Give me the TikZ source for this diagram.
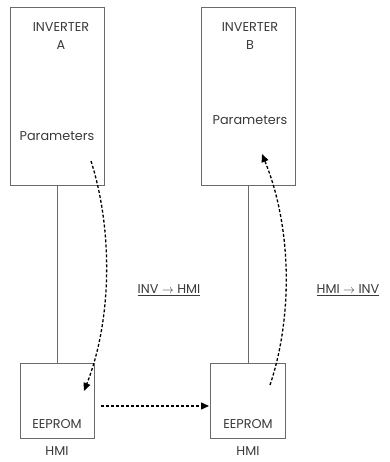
\documentclass[tikz,border=0pt]{standalone}
\usepackage{fontspec}
\setmainfont{Poppins}
\usetikzlibrary{arrows.meta}
\definecolor{linegray}{HTML}{6A6A6A}
\definecolor{textgray}{HTML}{3A3A3A}
\begin{document}
\begin{tikzpicture}[x=1pt,y=-1pt,
  box/.style={draw=linegray,line width=0.9pt},
  lbl/.style={text=textgray,font=\fontsize{12.8}{15}\selectfont,inner sep=0pt},
  flow/.style={draw=black,line width=1.3pt,dash pattern=on 3pt off 2pt,
    -{Triangle[length=8pt,width=7pt]}},
  link/.style={draw=linegray,line width=0.9pt}]
\useasboundingbox (0,0) rectangle (389,462);
% inverters
\draw[box] (10,7) rectangle (104,185);
\draw[box] (201,7) rectangle (295,185);
% HMI units
\draw[box] (20,363) rectangle (94,438);
\draw[box] (210,363) rectangle (285,438);
% cables
\coordinate (ca1) at (57,185); \coordinate (ca2) at (57,363);
\coordinate (cb1) at (248,185); \coordinate (cb2) at (248,363);
\draw[link] (ca1) -- (ca2);
\draw[link] (cb1) -- (cb2);
% texts
\node[lbl] (ia) at (61,27) {INVERTER};
\node[lbl] (ta) at (61,45) {A};
\node[lbl] (pa) at (57,136) {Parameters};
\node[lbl] (ib) at (250,27) {INVERTER};
\node[lbl] (tb) at (250,45) {B};
\node[lbl] (pb) at (250,120) {Parameters};
\node[lbl] (ea) at (57,424) {EEPROM};
\node[lbl] (eb) at (248,424) {EEPROM};
\node[lbl] (ha) at (57,451) {HMI};
\node[lbl] (hb) at (248,451) {HMI};
\node[lbl] (d1) at (169,290) {\underline{INV $\rightarrow$ HMI}};
\node[lbl] (d2) at (348,290) {\underline{HMI $\rightarrow$ INV}};
% transfer paths
\coordinate (s1) at (91,161); \coordinate (e1) at (84,391);
\coordinate (s2) at (101,406); \coordinate (e2) at (209,406);
\coordinate (s3) at (270,385); \coordinate (e3) at (262,154);
\draw[flow] (s1) .. controls (113,230) and (112,320) .. (e1);
\draw[flow] (s2) -- (e2);
\draw[flow] (s3) .. controls (292,320) and (293,230) .. (e3);
\end{tikzpicture}
\end{document}
